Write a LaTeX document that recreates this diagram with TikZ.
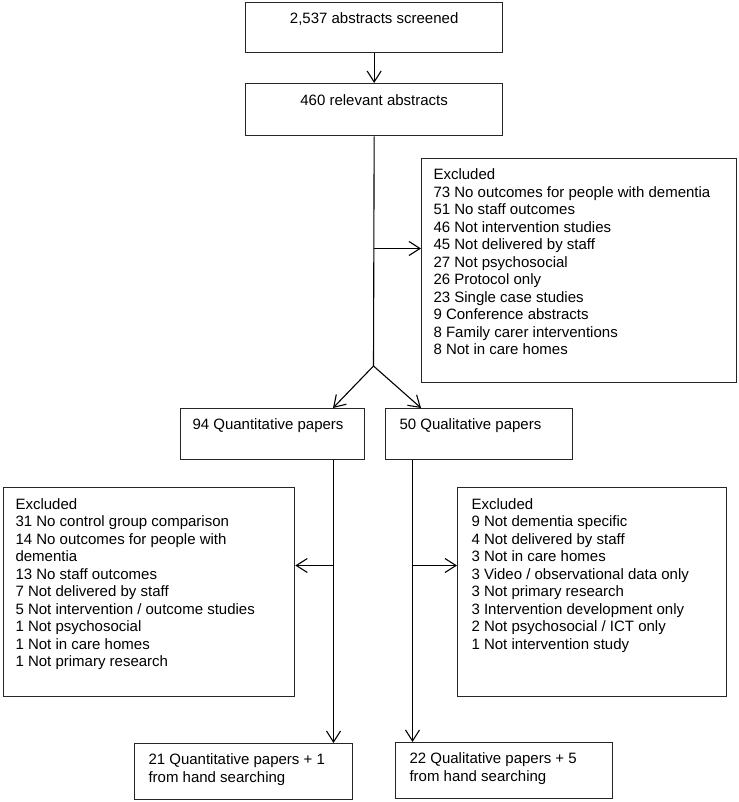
\documentclass[tikz,border=0pt]{standalone}
\usepackage{fontspec}
\setmainfont{Liberation Sans}
\usetikzlibrary{arrows.meta}
\usetikzlibrary{positioning}

\tikzset{
  box/.style={draw=black!85, line width=1.3pt, anchor=north west, inner sep=0pt},
  txt/.style={align=left, inner sep=0pt, font=\fontsize{15}{17.5}\selectfont},
  arr/.style={-{Straight Barb[length=11pt,width=14pt]}},
}

\begin{document}
\begin{tikzpicture}[x=1pt, y=1pt, line width=1.1pt]
\useasboundingbox (0,0) rectangle (738,-802);

% boxes
\node[box, minimum width=257pt, minimum height=50pt] (scr) at (245,-2) {};
\node[box, minimum width=257pt, minimum height=52pt] (rel) at (245,-83) {};
\node[box, minimum width=315pt, minimum height=224pt] (exc) at (421,-158) {};
\node[box, minimum width=184pt, minimum height=51pt] (quan) at (180,-408) {};
\node[box, minimum width=187pt, minimum height=51pt] (qual) at (385,-408) {};
\node[box, minimum width=291pt, minimum height=209pt] (excq) at (3,-487) {};
\node[box, minimum width=269pt, minimum height=209pt] (excl) at (457,-487) {};
\node[box, minimum width=218pt, minimum height=56pt] (resq) at (134,-743) {};
\node[box, minimum width=217pt, minimum height=56pt] (resl) at (395,-742) {};

% texts
\node[txt, below=10.5pt of scr.north] (scrt) {2,537 abstracts screened};
\node[txt, below=11.5pt of rel.north] (relt) {460 relevant abstracts};
\node[txt, below right=10.5pt and 12pt of exc.north west] (exct)
{Excluded\\
73 No outcomes for people with dementia\\
51 No staff outcomes\\
46 Not intervention studies\\
45 Not delivered by staff\\
27 Not psychosocial\\
26 Protocol only\\
23 Single case studies\\
9 Conference abstracts\\
8 Family carer interventions\\
8 Not in care homes};
\node[txt, below right=10.5pt and 12pt of quan.north west] (quant) {94 Quantitative papers};
\node[txt, below right=10.5pt and 14pt of qual.north west] (qualt) {50 Qualitative papers};
\node[txt, below right=11pt and 12pt of excq.north west] (excqt)
{Excluded\\
31 No control group comparison\\
14 No outcomes for people with\\
dementia\\
13 No staff outcomes\\
7 Not delivered by staff\\
5 Not intervention / outcome studies\\
1 Not psychosocial\\
1 Not in care homes\\
1 Not primary research};
\node[txt, below right=11pt and 14pt of excl.north west] (exclt)
{Excluded\\
9 Not dementia specific\\
4 Not delivered by staff\\
3 Not in care homes\\
3 Video / observational data only\\
3 Not primary research\\
3 Intervention development only\\
2 Not psychosocial / ICT only\\
1 Not intervention study};
\node[txt, below right=10.5pt and 14pt of resq.north west] (resqt)
{21 Quantitative papers + 1\\from hand searching};
\node[txt, below right=10.5pt and 14pt of resl.north west] (reslt)
{22 Qualitative papers + 5\\from hand searching};

% connectors
\coordinate (fork) at (373.5,-248.5);
\coordinate (split) at (373.5,-366);
\draw[arr] (scr.south) -- (rel.north);
\draw (rel.south) -- (split);
\draw[arr] (fork) -- (fork -| exc.west);
\draw[arr] (split) -- ([xshift=153pt]quan.north west);
\draw[arr] (split) -- ([xshift=36pt]qual.north west);

\coordinate (qdrop) at ([xshift=153.5pt]quan.south west);
\coordinate (qfork) at (333.5,-565.5);
\draw[arr] (qdrop) -- (qdrop |- resq.north);
\draw[arr] (qfork) -- (qfork -| excq.east);

\coordinate (ldrop) at ([xshift=27.5pt]qual.south west);
\coordinate (lfork) at (412.5,-565.5);
\draw[arr] (ldrop) -- (ldrop |- resl.north);
\draw[arr] (lfork) -- (lfork -| excl.west);
\end{tikzpicture}
\end{document}
